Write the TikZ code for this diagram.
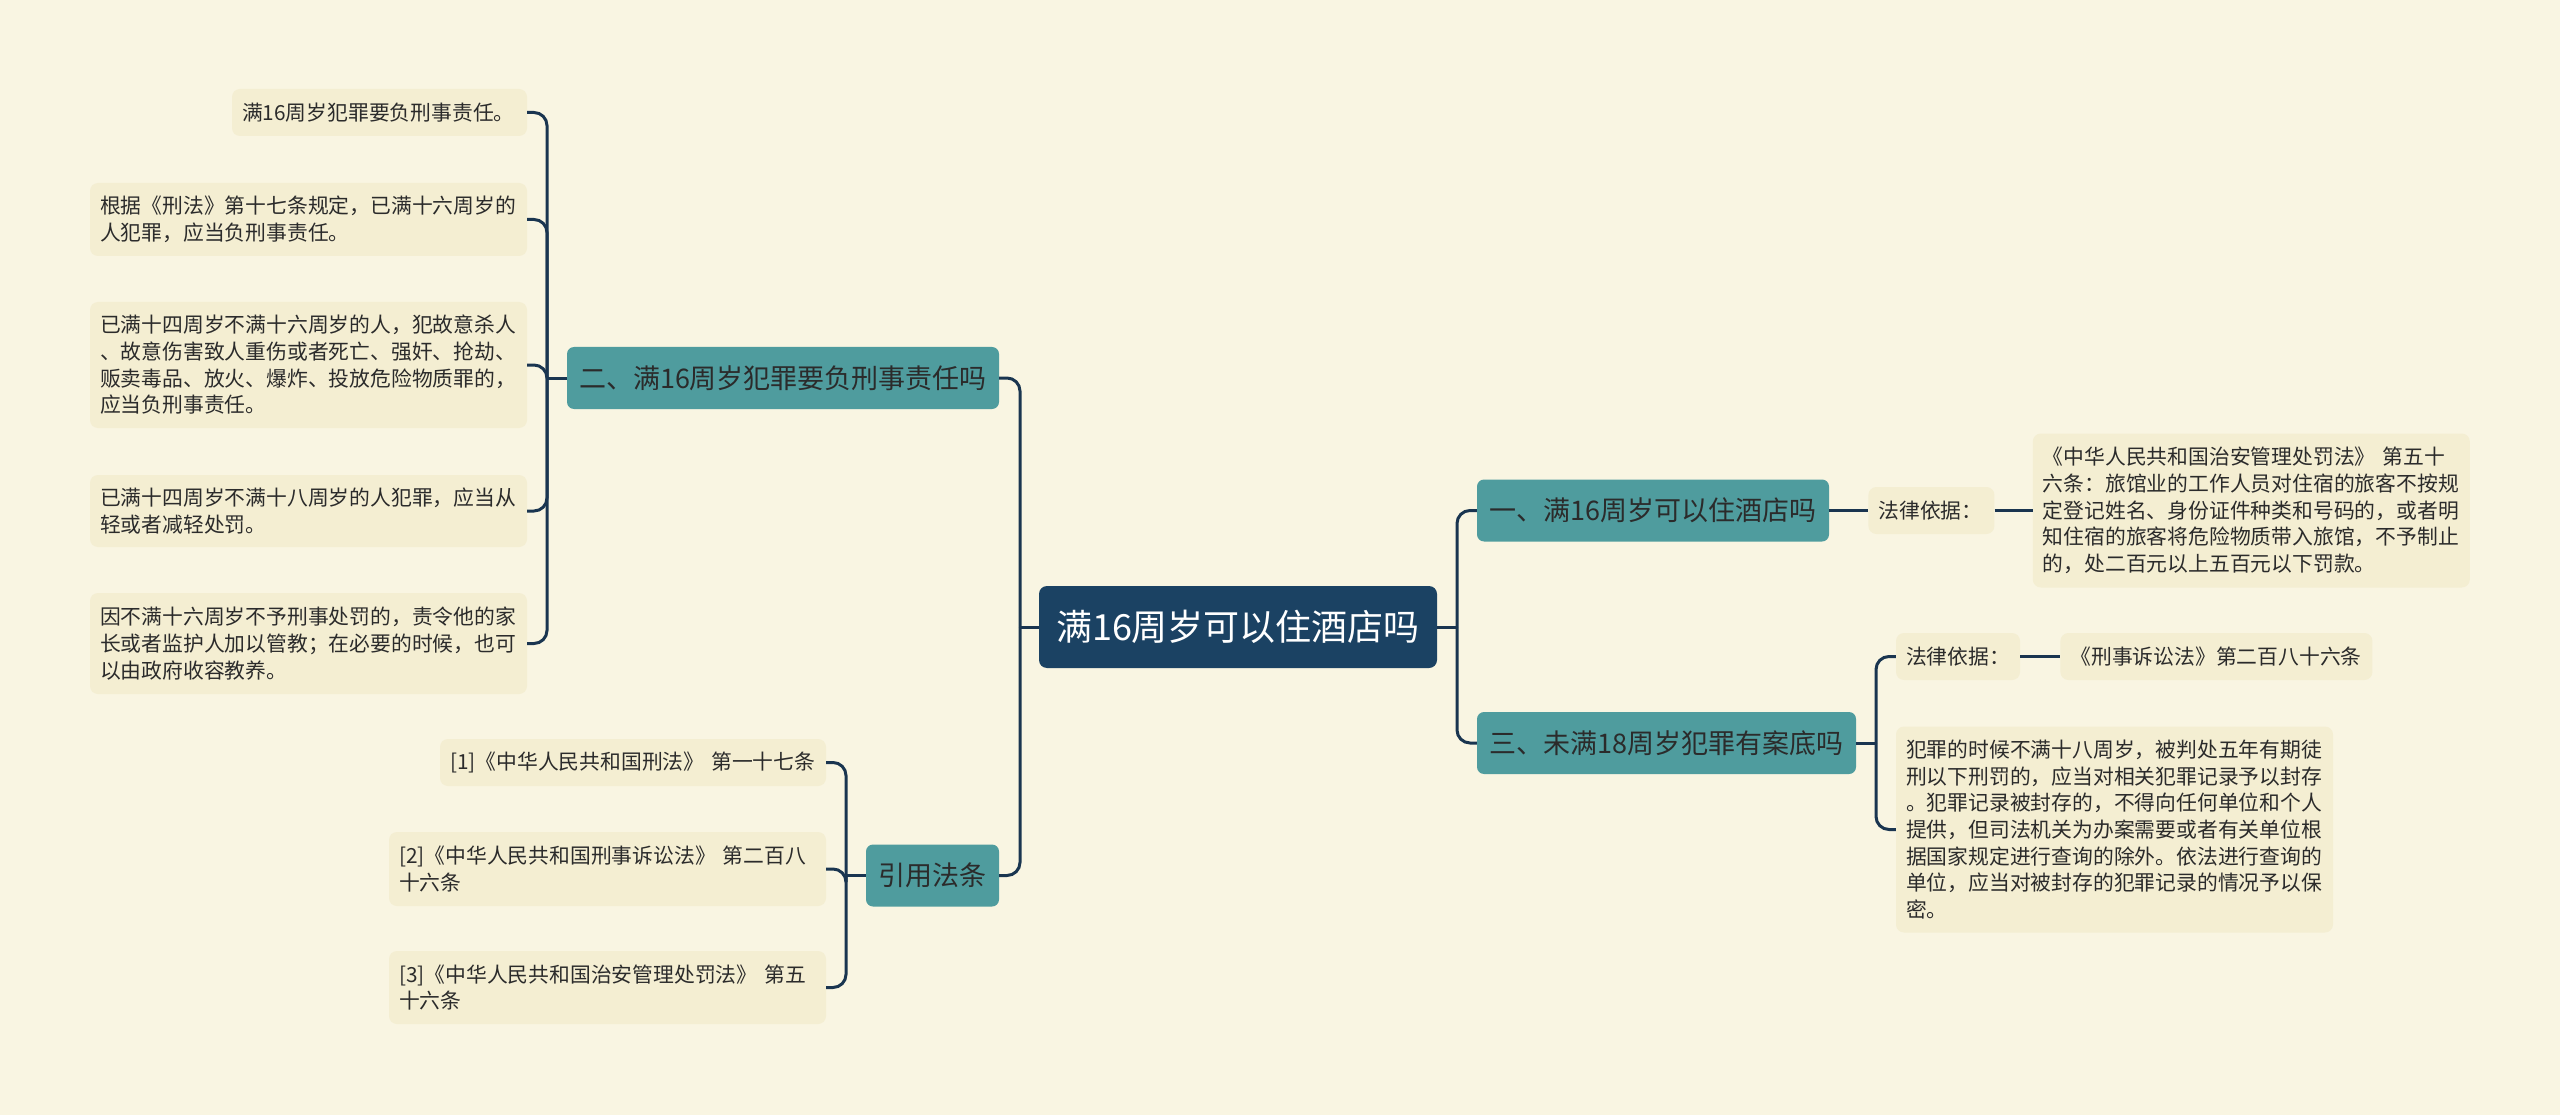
\documentclass[tikz,border=0pt]{standalone}
\usepackage{fontspec}
\setmainfont{Noto Sans CJK SC}
\usepackage{xcolor}
\usepackage{tikz}
\usetikzlibrary{positioning}
\definecolor{PaperCream}{HTML}{F9F5E2}
\definecolor{LeafFill}{HTML}{F4EED2}
\definecolor{BranchTeal}{HTML}{4F9C9E}
\definecolor{RootNavy}{HTML}{1B4263}
\definecolor{LinkNavy}{HTML}{1A3550}
\definecolor{InkGrey}{HTML}{2B2B2B}

\begin{document}
\begin{tikzpicture}[
  x=1pt, y=-1pt,
  node distance=38pt,
  root/.style={fill=RootNavy, text=white, rounded corners=8pt, minimum width=398pt, minimum height=82pt, font=\fontsize{36}{40}\selectfont},
  branch/.style={fill=BranchTeal, text=InkGrey, rounded corners=7pt, inner xsep=12pt, minimum height=62pt, font=\fontsize{27}{32}\selectfont},
  leaf/.style={fill=LeafFill, text=InkGrey, rounded corners=8pt, align=left, inner xsep=10pt, inner ysep=0pt, font=\fontsize{20.8}{26.7}\selectfont},
  link/.style={draw=LinkNavy, line width=3pt, rounded corners=13pt}
]
\fill[PaperCream] (0,0) rectangle (2560,1115);
\useasboundingbox (0,0) rectangle (2560,1115);

\node[root] (root) at (1238,627) {满16周岁可以住酒店吗};

\node[branch, minimum width=432pt] (crime) at (783,378) {二、满16周岁犯罪要负刑事责任吗};
\node[branch, minimum width=133pt] (cite) at (932.5,875.5) {引用法条};
\node[branch, minimum width=352pt] (hotel) at (1653,510.5) {一、满16周岁可以住酒店吗};
\node[branch, minimum width=379pt] (record) at (1666.5,743) {三、未满18周岁犯罪有案底吗};

\node[leaf, text width=275pt, minimum height=47pt] (crimeA) at (379.5,112.5) {满16周岁犯罪要负刑事责任。};
\node[leaf, text width=417pt, minimum height=73pt] (crimeB) at (308.5,219.5) {根据《刑法》第十七条规定，已满十六周岁的\\人犯罪，应当负刑事责任。};
\node[leaf, text width=417pt, minimum height=126pt] (crimeC) at (308.5,365) {已满十四周岁不满十六周岁的人，犯故意杀人\\、故意伤害致人重伤或者死亡、强奸、抢劫、\\贩卖毒品、放火、爆炸、投放危险物质罪的，\\应当负刑事责任。};
\node[leaf, text width=417pt, minimum height=72pt] (crimeD) at (308.5,511) {已满十四周岁不满十八周岁的人犯罪，应当从\\轻或者减轻处罚。};
\node[leaf, text width=417pt, minimum height=101pt] (crimeE) at (308.5,643.5) {因不满十六周岁不予刑事处罚的，责令他的家\\长或者监护人加以管教；在必要的时候，也可\\以由政府收容教养。};

\node[leaf, text width=366pt, minimum height=47pt] (citeA) at (633,762.5) {[1]《中华人民共和国刑法》 第一十七条};
\node[leaf, text width=417pt, minimum height=74pt] (citeB) at (607.5,869) {[2]《中华人民共和国刑事诉讼法》 第二百八\\十六条};
\node[leaf, text width=417pt, minimum height=73pt] (citeC) at (607.5,987.5) {[3]《中华人民共和国治安管理处罚法》 第五\\十六条};

\node[leaf, text width=106pt, minimum height=47pt, right=39pt of hotel] (hotelBasis) {法律依据：};
\node[leaf, text width=417pt, minimum height=154pt, right=of hotelBasis] (hotelLaw) {《中华人民共和国治安管理处罚法》 第五十\\六条：旅馆业的工作人员对住宿的旅客不按规\\定登记姓名、身份证件种类和号码的，或者明\\知住宿的旅客将危险物质带入旅馆，不予制止\\的，处二百元以上五百元以下罚款。};

\node[leaf, text width=104pt, minimum height=47pt] (recordBasis) at (1958,656.5) {法律依据：};
\node[leaf, text width=292pt, minimum height=47pt, right=40pt of recordBasis] (recordRef) {《刑事诉讼法》第二百八十六条};
\node[leaf, text width=417pt, minimum height=206pt] (recordLaw) at (2114.5,829.5) {犯罪的时候不满十八周岁，被判处五年有期徒\\刑以下刑罚的，应当对相关犯罪记录予以封存\\。犯罪记录被封存的，不得向任何单位和个人\\提供，但司法机关为办案需要或者有关单位根\\据国家规定进行查询的除外。依法进行查询的\\单位，应当对被封存的犯罪记录的情况予以保\\密。};

\coordinate (leftHub) at (1020,627);
\coordinate (rightHub) at (1457,627);
\coordinate (crimeHub) at (547,378);
\coordinate (citeHub) at (846,875.5);
\coordinate (recordHub) at (1876,743);

\draw[link] (root.west) -- (leftHub);
\draw[link] (leftHub) |- (crime.east);
\draw[link] (leftHub) |- (cite.east);
\draw[link] (root.east) -- (rightHub);
\draw[link] (rightHub) |- (hotel.west);
\draw[link] (rightHub) |- (record.west);

\draw[link] (crime.west) -- (crimeHub);
\draw[link] (crimeHub) |- (crimeA.east);
\draw[link] (crimeHub) |- (crimeB.east);
\draw[link] (crimeHub) |- (crimeC.east);
\draw[link] (crimeHub) |- (crimeD.east);
\draw[link] (crimeHub) |- (crimeE.east);

\draw[link] (cite.west) -- (citeHub);
\draw[link] (citeHub) |- (citeA.east);
\draw[link] (citeHub) |- (citeB.east);
\draw[link] (citeHub) |- (citeC.east);

\draw[link] (hotel) -- (hotelBasis);
\draw[link] (hotelBasis) -- (hotelLaw);

\draw[link] (record.east) -- (recordHub);
\draw[link] (recordHub) |- (recordBasis.west);
\draw[link] (recordHub) |- (recordLaw.west);
\draw[link] (recordBasis) -- (recordRef);
\end{tikzpicture}
\end{document}
